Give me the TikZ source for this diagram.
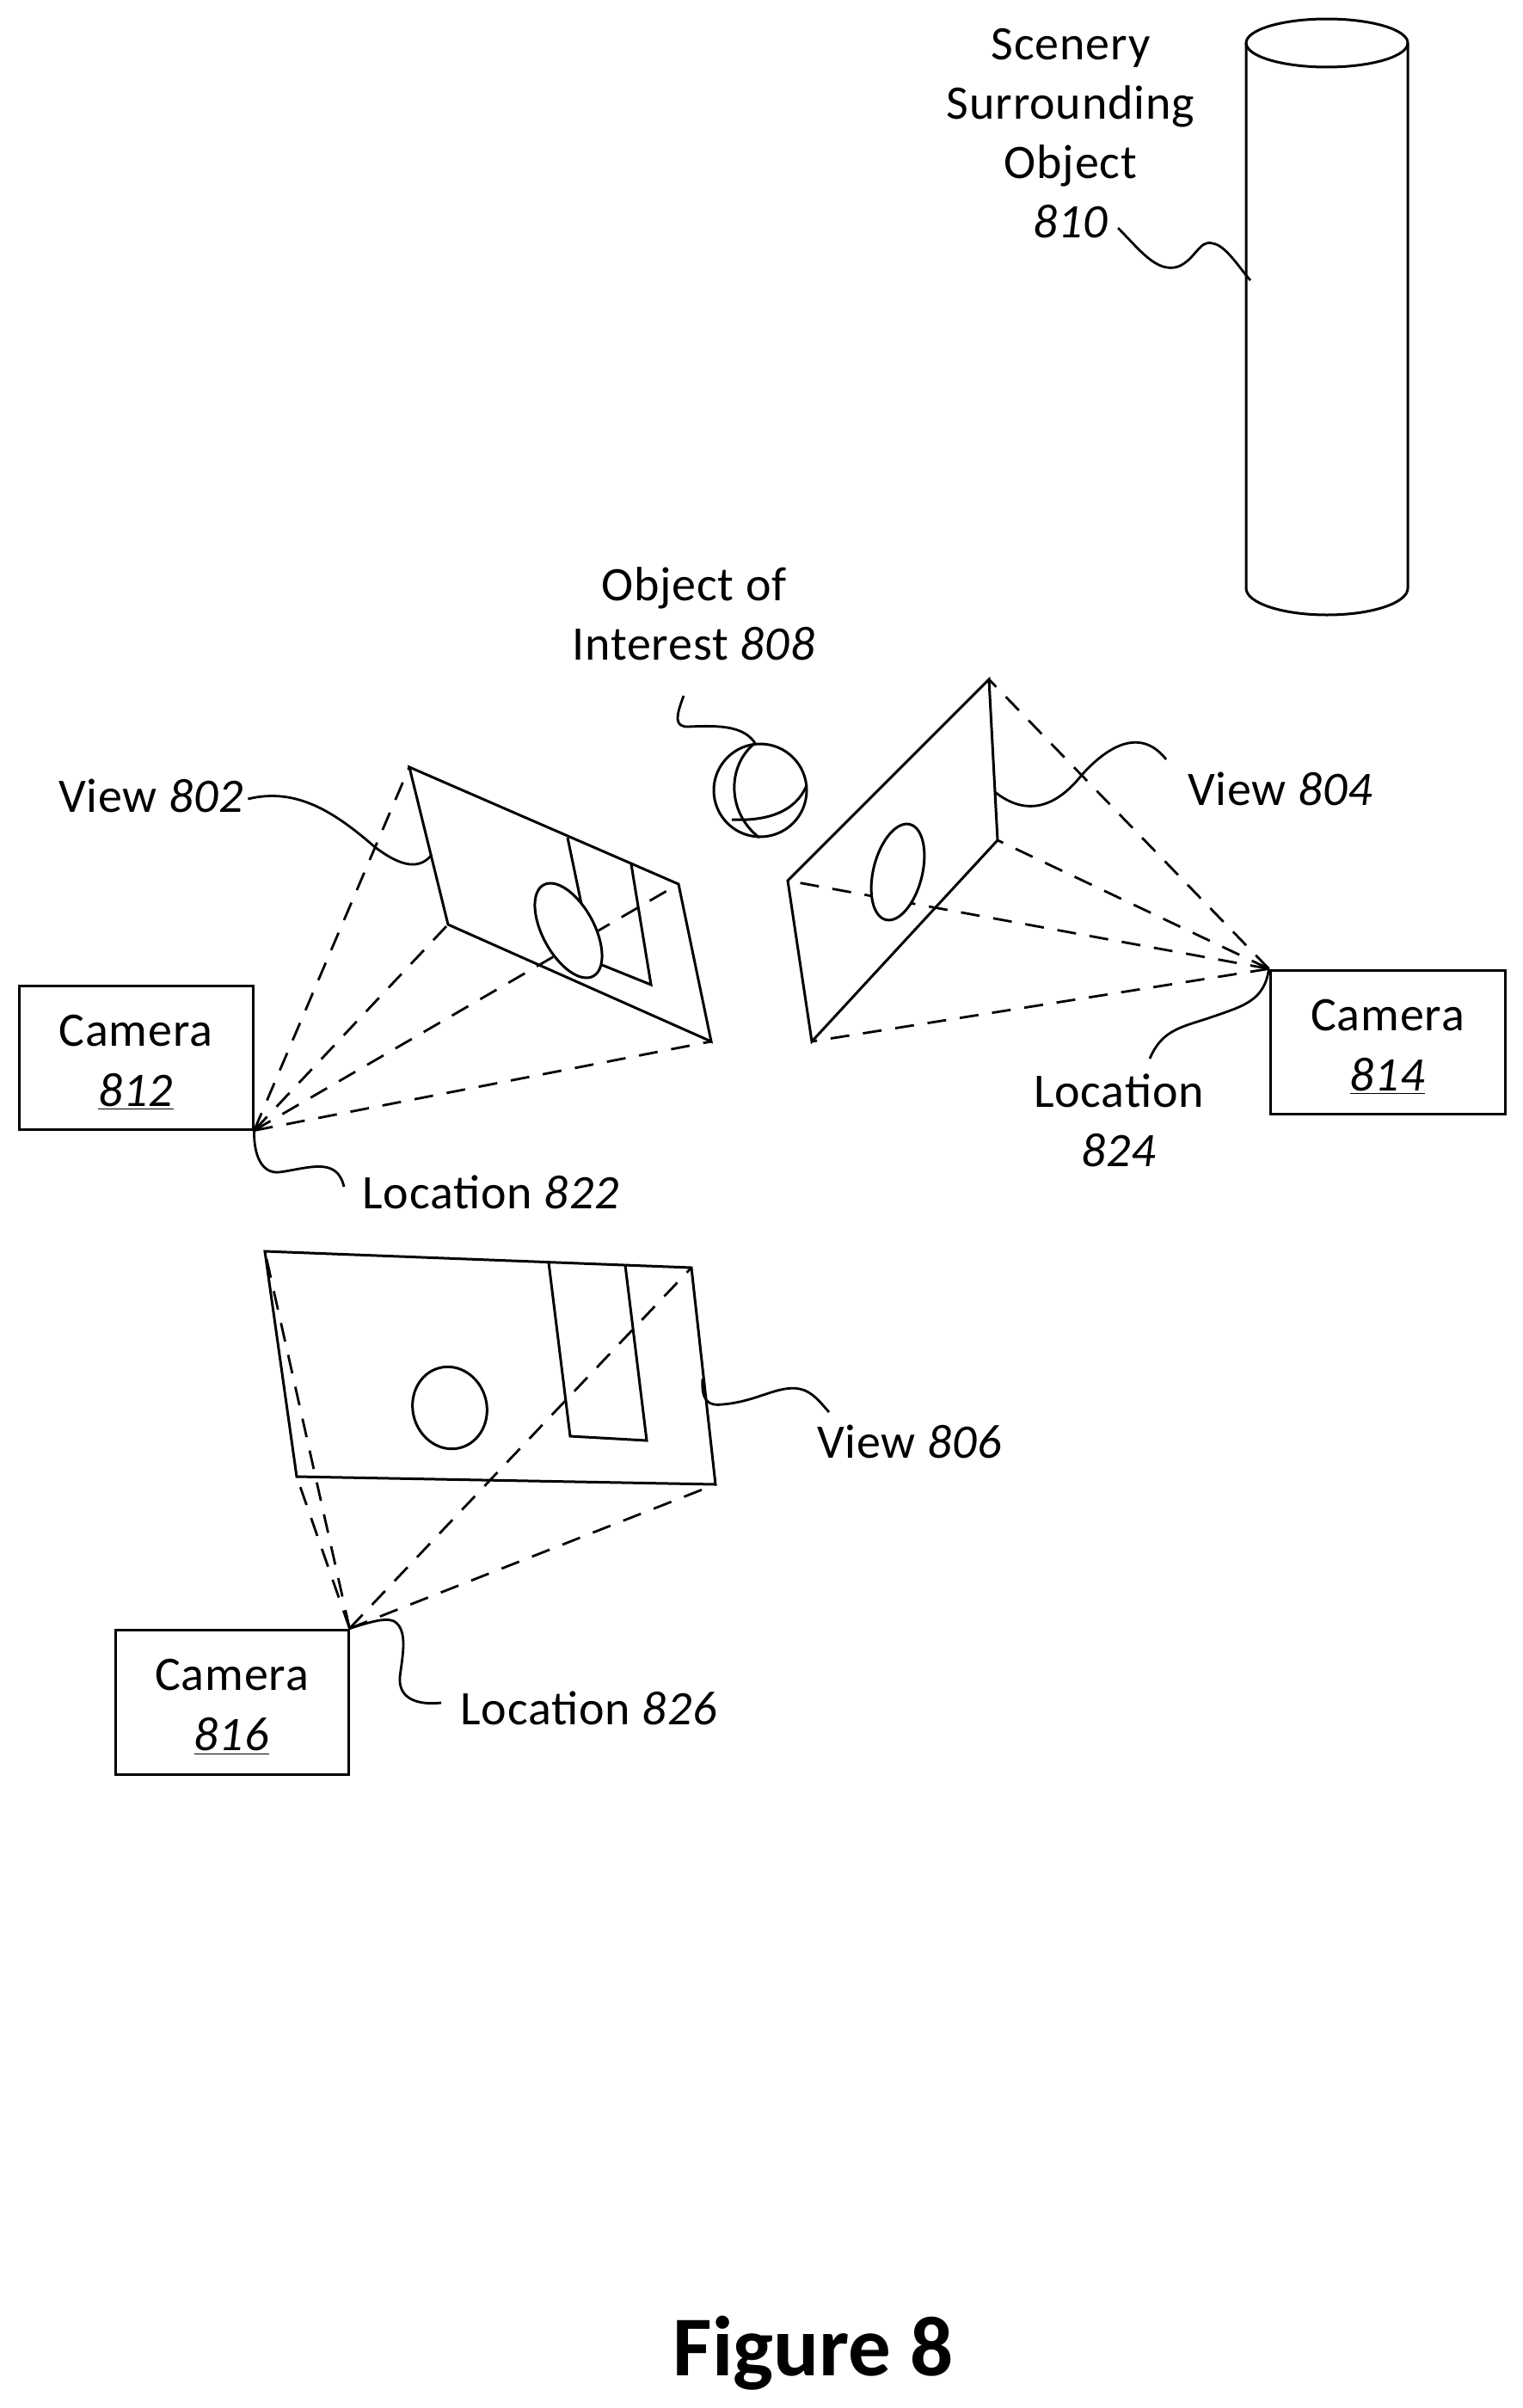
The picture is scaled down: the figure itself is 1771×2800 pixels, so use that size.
\documentclass[tikz,border=0pt]{standalone}
\usepackage{fontspec}
\setmainfont{Carlito}[LetterSpace=1.5]
\newfontfamily\titlefont{Carlito}[BoldFont={Carlito Bold}]
\usetikzlibrary{calc}
\tikzset{
  base/.style={line width=1.5pt,line join=miter},
  leader/.style={line width=1.4pt},
  dashline/.style={line width=1.4pt,dash pattern=on 11pt off 8pt},
  lab/.style={inner sep=0pt,align=center,font=\fontsize{28}{34.5}\selectfont},
  cam/.style={draw,line width=1.5pt,inner sep=0pt,align=center,font=\fontsize{28}{35}\selectfont},
  title/.style={inner sep=0pt,font=\fontsize{49.5}{55}\titlefont\bfseries}
}
\newcommand{\rn}[1]{\textit{#1}}
\newcommand{\camtext}[1]{\rule{0pt}{24pt}Camera\\\underline{\rn{#1}}}
\begin{document}
\begin{tikzpicture}[x=0.5pt,y=-0.5pt]
\useasboundingbox (0,0) rectangle (1771,2800);
% cameras
\node[cam,minimum width=136pt,minimum height=83.5pt] (cam812) at (158,1229.5) {\camtext{812}};
\node[cam,minimum width=136.5pt,minimum height=83.5pt] (cam814) at (1613.5,1211.5) {\camtext{814}};
\node[cam,minimum width=135.5pt,minimum height=84pt] (cam816) at (269.5,1979) {\camtext{816}};
% labels
\node[lab] (t810) at (1245,155) {Scenery\\Surrounding\\Object\\\rn{810}};
\node[lab] (t808) at (807,714) {Object of\\Interest \rn{808}};
\node[lab] (t802) at (176,925) {View \rn{802}};
\node[lab] (t804) at (1489,917) {View \rn{804}};
\node[lab] (t806) at (1058,1676) {View \rn{806}};
\node[lab] (t822) at (571,1386) {Location \rn{822}};
\node[lab] (t824) at (1301,1303) {Location\\\rn{824}};
\node[lab] (t826) at (685,1986) {Location \rn{826}};
\node[title] (fig) at (946,2736) {Figure 8};
% corners
\coordinate (a1) at (476,892); \coordinate (a2) at (789,1028); \coordinate (a3) at (827,1211); \coordinate (a4) at (521,1075);
\coordinate (b1) at (1150,790); \coordinate (b2) at (1160,977); \coordinate (b3) at (944,1211); \coordinate (b4) at (916,1024);
\coordinate (c1) at (308,1455); \coordinate (c2) at (804,1474); \coordinate (c3) at (832,1726); \coordinate (c4) at (345,1717);
% dashed sight lines
\foreach \k in {1,2,3,4} {
  \draw[dashline] (cam812.south east) -- (a\k);
  \draw[dashline] (cam814.north west) -- (b\k);
  \draw[dashline] (cam816.north east) -- (c\k);
}
% views
\draw[base] (a1) -- (a2) -- (a3) -- (a4) -- cycle;
\draw[base] (b1) -- (b2) -- (b3) -- (b4) -- cycle;
\draw[base] (c1) -- (c2) -- (c3) -- (c4) -- cycle;
% scenery inside the views
\draw[base] (660,974) -- (690,1118) -- (757,1145) -- (734,1005);
\draw[base,fill=white] (661,1082) ellipse [x radius=15pt,y radius=30.2pt,rotate=28.5];
\draw[base,fill=white] (1044,1014) ellipse [x radius=14.2pt,y radius=28.6pt,rotate=-14.2];
\draw[base] (638,1468) -- (663,1670) -- (752,1675) -- (727,1471);
\draw[base] (523,1637) ellipse [x radius=21.5pt,y radius=24pt,rotate=15];
% sphere
\coordinate (sphtop) at (878,864);
\draw[base] (884,919) circle [radius=27pt];
\draw[base] (878,864) .. controls (845,890) and (845,945) .. (883,974);
\draw[base] (938,913) .. controls (925,945) and (890,955) .. (851,953);
% cylinder
\coordinate (cylhit) at (1454,326);
\draw[base] (1449,50) -- (1449,684) arc [start angle=180,end angle=360,x radius=47pt,y radius=15.5pt] -- (1637,50);
\draw[base] (1543,50) ellipse [x radius=47pt,y radius=14pt];
% leaders
\draw[leader] (t802.east) ++(2pt,-2pt) coordinate (s802) .. controls (345,915) and (390,945) .. (436,985) .. controls (460,1003) and (485,1015) .. (502,994);
\draw[leader] (1157,921) .. controls (1200,955) and (1235,930) .. (1258,901) .. controls (1295,860) and (1330,850) .. (1356,883);
\draw[leader] (1300,265) .. controls (1325,290) and (1345,318) .. (1370,310) .. controls (1390,302) and (1395,278) .. (1410,283) .. controls (1425,285) and (1440,310) .. (cylhit);
\draw[leader] (795,809) .. controls (785,835) and (785,845) .. (800,845) .. controls (840,843) and (865,845) .. (sphtop);
\draw[leader] (cam812.south east) .. controls (295,1345) and (305,1365) .. (325,1363) .. controls (360,1358) and (392,1345) .. (400,1380);
\draw[leader] (cam814.north west) .. controls (1470,1165) and (1445,1170) .. (1402,1185) .. controls (1370,1195) and (1350,1200) .. (1337,1231);
\draw[leader] (817,1603) .. controls (815,1630) and (825,1635) .. (840,1633) .. controls (880,1630) and (905,1610) .. (930,1615) .. controls (945,1618) and (955,1632) .. (964,1642);
\draw[leader] (cam816.north east) .. controls (425,1888) and (447,1880) .. (458,1885) .. controls (475,1895) and (468,1925) .. (465,1950) .. controls (463,1975) and (485,1983) .. (513,1980);
\end{tikzpicture}
\end{document}
